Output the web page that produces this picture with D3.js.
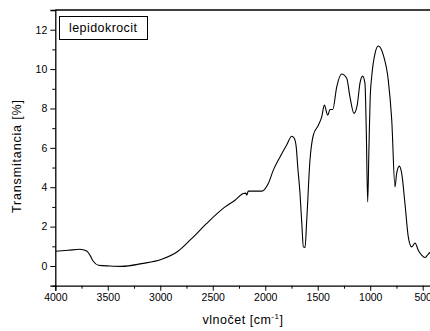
<!DOCTYPE html>
<html>
<head>
<meta charset="utf-8">
<script src="https://cdn.jsdelivr.net/npm/d3@7"></script>
<style>
  html, body { margin: 0; padding: 0; background: #fff; }
  svg { display: block; font-family: "Liberation Sans", Arial, sans-serif; }
</style>
</head>
<body>
<svg id="chart" width="430" height="331"></svg>
<script>
// IR spectrum of lepidocrocite: wavenumber [cm^-1] vs transmittance [%]
const wavenumber = [
  4000, 3876, 3765, 3701, 3669, 3638, 3590, 3480, 3367, 3177, 2986, 2828, 2717, 2669,
  2558, 2383, 2288, 2209, 2185, 2177, 2161, 2100, 2034, 1971, 1923, 1859, 1796, 1748,
  1725, 1705, 1690, 1669, 1650, 1637, 1621, 1605, 1574, 1542, 1494, 1462, 1437, 1405,
  1383, 1357, 1319, 1272, 1224, 1193, 1155, 1124, 1097, 1072, 1050, 1038, 1024, 1012,
  1000, 986, 954, 923, 875, 828, 795, 764, 748, 723, 700, 669, 637, 605, 573, 542,
  510, 478, 455, 437, 420
];
const transmittance = [
  0.75, 0.80, 0.85, 0.76, 0.54, 0.24, 0.04, 0.00, -0.02, 0.12, 0.34, 0.76, 1.31, 1.56,
  2.16, 3.00, 3.34, 3.68, 3.70, 3.59, 3.80, 3.80, 3.80, 4.19, 4.87, 5.54, 6.14, 6.59,
  6.50, 6.05, 5.00, 3.70, 2.00, 0.97, 0.94, 2.30, 5.37, 6.64, 7.15, 7.57, 8.17, 7.66,
  7.95, 7.95, 9.10, 9.75, 9.53, 8.59, 7.75, 8.17, 9.30, 9.64, 9.27, 7.00, 3.25, 6.00,
  8.60, 9.61, 10.80, 11.17, 10.71, 9.44, 7.41, 4.02, 4.70, 5.07, 4.70, 3.17, 1.47, 0.97, 1.17, 0.80,
  0.55, 0.43, 0.55, 0.66, 0.72
];
const xTicks = [4000, 3500, 3000, 2500, 2000, 1500, 1000, 500];
const yTicks = [0, 2, 4, 6, 8, 10, 12];
const legendLabel = "lepidokrocit";
const yTitle = "Transmitancia [%]";

const svg = d3.select("#chart");
const m = { left: 55.3, top: 10, right: 433.2, bottom: 285.7 };

const x = d3.scaleLinear().domain([4000, 400]).range([m.left, m.right]);
const y = d3.scaleLinear().domain([-1, 13]).range([m.bottom, m.top]);

const black = "#000";

// frame (top and right edges)
svg.append("path")
  .attr("d", `M${m.left},${m.top}H${m.right}V${m.bottom}`)
  .attr("fill", "none").attr("stroke", black).attr("stroke-width", 1.3);

// x axis with minor ticks
const xMinor = d3.range(4000, 399, -250).filter(v => !xTicks.includes(v));
const gx = svg.append("g").attr("transform", `translate(0,${m.bottom})`);
gx.call(d3.axisBottom(x).tickValues(xTicks).tickSize(5).tickPadding(3).tickFormat(d3.format("d")));
gx.append("g").call(d3.axisBottom(x).tickValues(xMinor).tickSize(3).tickFormat(""))
  .select(".domain").remove();

// y axis with minor ticks
const yMinor = d3.range(-1, 13.01, 1).filter(v => !yTicks.includes(v));
const gy = svg.append("g").attr("transform", `translate(${m.left},0)`);
gy.call(d3.axisLeft(y).tickValues(yTicks).tickSize(5).tickPadding(3));
gy.append("g").call(d3.axisLeft(y).tickValues(yMinor).tickSize(3).tickFormat(""))
  .select(".domain").remove();

svg.selectAll(".domain").attr("stroke", black).attr("stroke-width", 1.3);
svg.selectAll(".tick line").attr("stroke", black).attr("stroke-width", 1);
svg.selectAll(".tick text").attr("fill", black)
  .style("font-size", "10.5px").style("font-family", "'Liberation Sans', Arial, sans-serif");

// spectrum line
const line = d3.line()
  .x((d, i) => x(wavenumber[i]))
  .y(d => y(d))
  .curve(d3.curveMonotoneX);

svg.append("defs").append("clipPath").attr("id", "plotClip")
  .append("rect").attr("x", m.left).attr("y", m.top)
  .attr("width", m.right - m.left).attr("height", m.bottom - m.top);

svg.append("path")
  .datum(transmittance)
  .attr("clip-path", "url(#plotClip)")
  .attr("d", line)
  .attr("fill", "none").attr("stroke", black).attr("stroke-width", 1.1)
  .attr("stroke-linejoin", "round");

// legend box
const lg = svg.append("g");
lg.append("rect").attr("x", 59.5).attr("y", 16.5).attr("width", 88).attr("height", 23)
  .attr("fill", "#fff").attr("stroke", black).attr("stroke-width", 1);
lg.append("text").attr("x", 69).attr("y", 31.5)
  .attr("textLength", 68).attr("lengthAdjust", "spacing")
  .style("font-size", "12.5px").attr("fill", black).text(legendLabel);

// axis titles
svg.append("text")
  .attr("transform", "translate(21,156.5) rotate(-90)")
  .attr("text-anchor", "middle").attr("textLength", 113).attr("lengthAdjust", "spacing")
  .style("font-size", "12.5px").attr("fill", black)
  .text(yTitle);

const xt = svg.append("text")
  .attr("x", 243).attr("y", 324)
  .attr("text-anchor", "middle").style("font-size", "12.5px").attr("fill", black)
  .style("letter-spacing", "0.5px");
xt.append("tspan").text("vlnočet [cm");
xt.append("tspan").attr("dy", -5).style("font-size", "8px").text("-1");
xt.append("tspan").attr("dy", 5).text("]");
</script>
</body>
</html>
